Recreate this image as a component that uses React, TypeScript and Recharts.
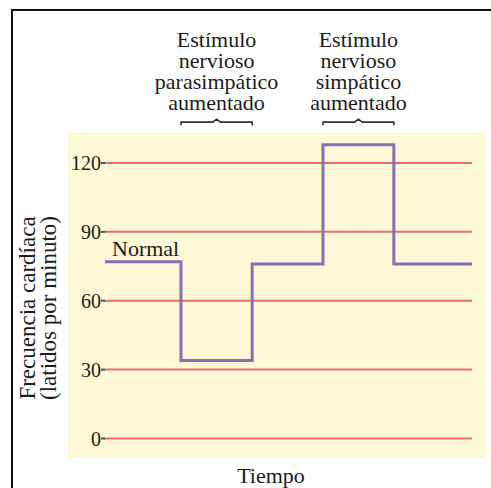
import { LineChart, Line, XAxis, YAxis, CartesianGrid, ReferenceArea, LabelList } from 'recharts';

// tiempo (unidades arbitrarias) y frecuencia cardíaca
const times = [0, 20.7, 40.1, 59.4, 78.7, 100];
const rates = [77, 34, 76, 128, 76, 76];
const rateTicks = [0, 30, 60, 90, 120];

const stimulusFrom = [20.7, 59.4];
const stimulusTo = [40.1, 78.7];
const stimulusText = [
    ['Estímulo', 'nervioso', 'parasimpático', 'aumentado'],
    ['Estímulo', 'nervioso', 'simpático', 'aumentado'],
];

const FONT = '"Liberation Serif", "Times New Roman", serif';
const YELLOW = '#fdf9d6';
const RED = '#e96a6c';
const PURPLE = '#8471b4';
const INK = '#1c1c1c';

const data = times.map((t, i) => ({ t, rate: rates[i] }));

function Brace(props: any) {
    const { x, y, width, height, lines } = props;
    const by = y + height / 2;
    const cx = x + width / 2;
    return (
        <g>
            <path
                d={`M${x},${by + 3}V${by}H${cx - 4}L${cx},${by - 3}L${cx + 4},${by}H${x + width}V${by + 3}`}
                fill="none"
                stroke="#333"
                strokeWidth={1.6}
            />
            {lines.map((line: string, i: number) => (
                <text
                    key={i}
                    x={cx}
                    y={by - 12 - (lines.length - 1 - i) * 21}
                    textAnchor="middle"
                    fontSize={22}
                    fill={INK}
                    fontFamily={FONT}
                >
                    {line}
                </text>
            ))}
        </g>
    );
}

function YLabel(props: any) {
    const { viewBox } = props;
    const cy = viewBox.y + viewBox.height / 2 + 13;
    return (
        <g fontFamily={FONT} fontSize={23} fill={INK} textAnchor="middle">
            <text x={35} y={cy} transform={`rotate(-90, 35, ${cy})`}>Frecuencia cardíaca</text>
            <text x={56} y={cy} transform={`rotate(-90, 56, ${cy})`}>(latidos por minuto)</text>
        </g>
    );
}

function XLabel(props: any) {
    const { viewBox } = props;
    return (
        <text x={viewBox.x + 166} y={viewBox.y + 25} textAnchor="middle" fontFamily={FONT} fontSize={22} fill={INK}>
            Tiempo
        </text>
    );
}

function NormalLabel(props: any) {
    const { x, y, index } = props;
    if (index !== 0) return null;
    return (
        <text x={x + 7} y={y - 6} fontFamily={FONT} fontSize={22} fill={INK}>
            Normal
        </text>
    );
}

export default function App() {
    return (
        <div style={{ position: 'absolute', left: 0, top: 0, width: 491, height: 488, overflow: 'hidden', background: '#fff' }}>
            <div
                style={{
                    position: 'absolute',
                    left: 11,
                    top: 9,
                    width: 600,
                    height: 600,
                    borderLeft: '2px solid #111',
                    borderTop: '2px solid #111',
                }}
            />
            {/* fondo amarillo del panel */}
            <div style={{ position: 'absolute', left: 68, top: 132, width: 417, height: 326, background: YELLOW }} />
            <div style={{ position: 'absolute', left: 0, top: 0 }}>
                <LineChart width={491} height={488} data={data} margin={{ top: 132, right: 19, bottom: 0, left: 45 }}>
                    <CartesianGrid
                        vertical={false}
                        horizontalValues={rateTicks}
                        stroke={RED}
                        strokeWidth={2}
                        strokeOpacity={1}
                    />
                    <XAxis
                        dataKey="t"
                        type="number"
                        domain={[0, 100]}
                        height={30}
                        tick={false}
                        tickLine={false}
                        axisLine={false}
                        label={{ content: XLabel }}
                    />
                    <YAxis
                        type="number"
                        domain={[-8.5, 133.5]}
                        ticks={rateTicks}
                        width={60}
                        axisLine={false}
                        tickSize={4}
                        tickMargin={0}
                        tickLine={{ stroke: '#6a4a4a', strokeWidth: 2 }}
                        tick={{ fontFamily: FONT, fontSize: 20, fill: INK }}
                        label={{ content: YLabel }}
                    />
                    {stimulusText.map((lines, i) => (
                        <ReferenceArea
                            key={i}
                            x1={stimulusFrom[i]}
                            x2={stimulusTo[i]}
                            y1={137.7}
                            y2={137.9}
                            ifOverflow="visible"
                            shape={(p: any) => <Brace {...p} lines={lines} />}
                        />
                    ))}
                    <Line
                        type="stepAfter"
                        dataKey="rate"
                        stroke={PURPLE}
                        strokeWidth={3}
                        dot={false}
                        isAnimationActive={false}
                    >
                        <LabelList dataKey="rate" content={NormalLabel} />
                    </Line>
                </LineChart>
            </div>
        </div>
    );
}
